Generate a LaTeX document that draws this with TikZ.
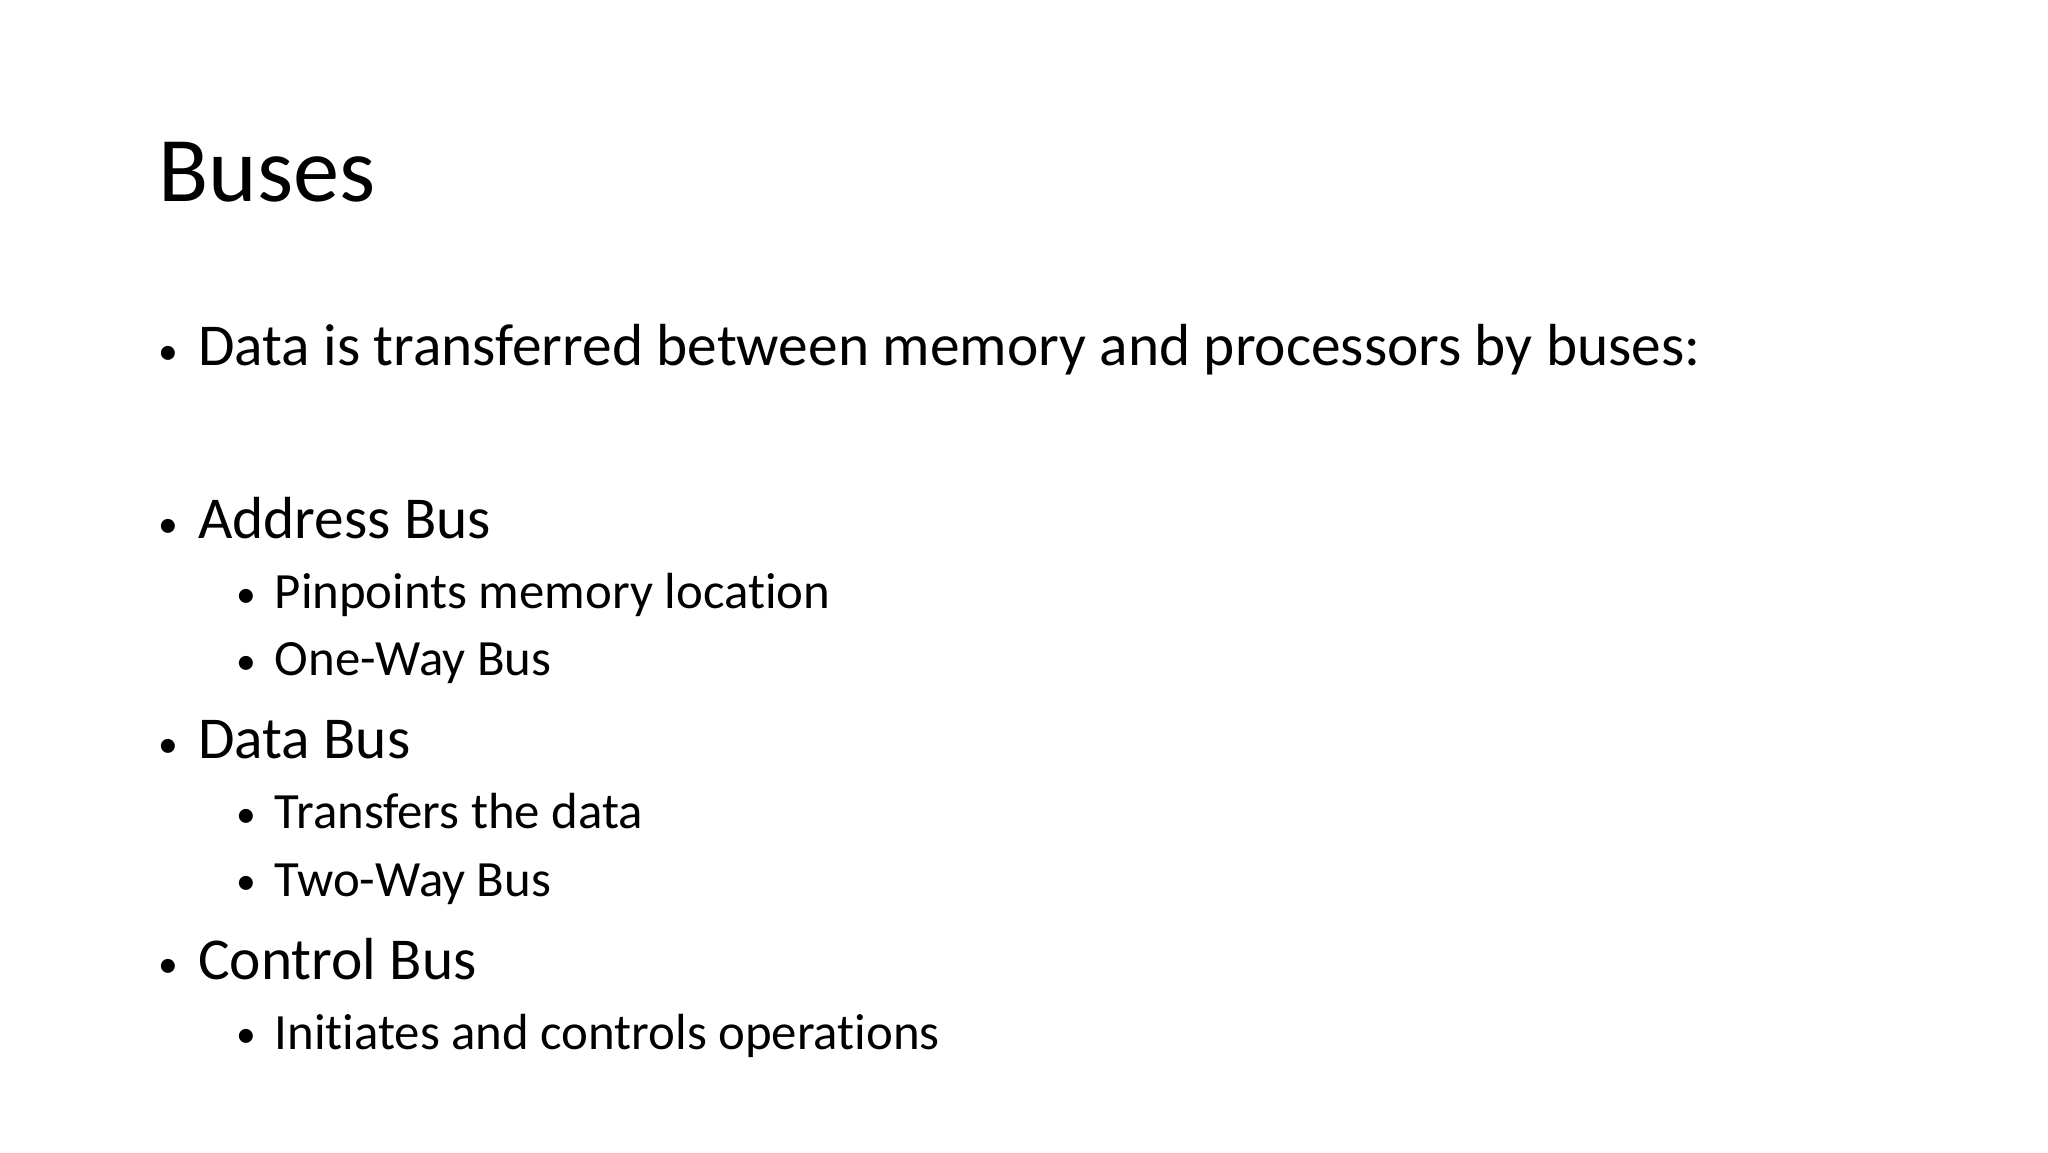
\documentclass[tikz,border=0pt]{standalone}
\usepackage{fontspec}
\setmainfont[Ligatures=NoCommon]{Carlito}
\begin{document}
\begin{tikzpicture}[x=1pt,y=-1pt,
  lone/.style={anchor=base west,inner sep=0pt,font=\fontsize{45}{50}\selectfont},
  ltwo/.style={anchor=base west,inner sep=0pt,font=\fontsize{38.5}{44}\selectfont},
  bul/.style={anchor=base west,inner sep=0pt,font=\fontsize{30}{36}\selectfont}]
\useasboundingbox (0,0) rectangle (1552,873);
\node[anchor=base west,inner sep=0pt,font=\fontsize{70}{80}\selectfont] (title) at (120,153) {Buses};
\node[bul] (b1) at (120,276) {•};
\node[lone] (t1) at (150,277) {Data is transferred between memory and processors by buses:};
\node[bul] (b2) at (120,407) {•};
\node[lone] (t2) at (150,408) {Address Bus};
\node[bul] (b3) at (179,460) {•};
\node[ltwo] (t3) at (208,461) {Pinpoints memory location};
\node[bul] (b4) at (179,511) {•};
\node[ltwo] (t4) at (208,512) {One-Way Bus};
\node[bul] (b5) at (120,574) {•};
\node[lone] (t5) at (150,575) {Data Bus};
\node[bul] (b6) at (179,627) {•};
\node[ltwo] (t6) at (208,628) {Transfers the data};
\node[bul] (b7) at (179,678) {•};
\node[ltwo] (t7) at (208,679) {Two-Way Bus};
\node[bul] (b8) at (120,741) {•};
\node[lone] (t8) at (150,742) {Control Bus};
\node[bul] (b9) at (179,794) {•};
\node[ltwo] (t9) at (208,795) {Initiates and controls operations};
\end{tikzpicture}
\end{document}
